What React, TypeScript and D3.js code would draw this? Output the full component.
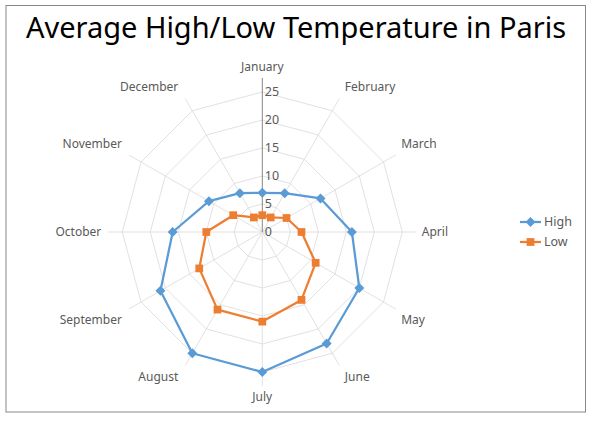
import React from "react";
import * as d3 from "d3";

const months = ["January","February","March","April","May","June","July","August","September","October","November","December"];
const highValues = [7, 8, 12, 16, 20, 23, 25, 25, 21, 16, 11, 8];
const lowValues = [3, 3, 5, 7, 11, 14, 16, 16, 13, 10, 6, 3];
const tickValues = [0, 5, 10, 15, 20, 25];
const seriesNames = ["High", "Low"];
const seriesColors = ["#5B9BD5", "#ED7D31"];

const W = 594, H = 423;
const cx = 262.3, cy = 232;
const FONT = "'Noto Sans', 'Open Sans', sans-serif";

export default function App() {
  const r = d3.scaleLinear().domain([0, 25]).range([0, 140]);
  const angle = d3.scalePoint<string>().domain(months).range([0, 2 * Math.PI * (11 / 12)]);
  const pt = (m: string, v: number): [number, number] => {
    const a = angle(m)!;
    return [cx + r(v) * Math.sin(a), cy - r(v) * Math.cos(a)];
  };
  const radarLine = d3.lineRadial<number>()
    .angle((_, i) => angle(months[i])!)
    .radius((d) => r(d))
    .curve(d3.curveLinearClosed);
  const ringVals = tickValues.filter((t) => t > 0);
  const axisMax = 27.5;
  const series = [highValues, lowValues];
  const diamond = d3.symbol().type(d3.symbolSquare).size(50)()!;
  const square = d3.symbol().type(d3.symbolSquare).size(60)()!;
  const markers = [diamond, square];
  const rotations = [45, 0];

  return (
    <svg width={W} height={H} style={{ display: "block", position: "absolute", left: 0, top: 0 }}>
      <rect x={0} y={0} width={W} height={H} fill="#fff" />
      <rect x={6} y={5.5} width={579.5} height={406.5} fill="#fff" stroke="#888" strokeWidth={1} />
      <text x={296} y={38} textAnchor="middle" fontFamily={FONT} fontSize={29} fill="#000">
        Average High/Low Temperature in Paris
      </text>
      {/* rings */}
      {ringVals.map((v) => (
        <polygon key={v}
          points={months.map((m) => pt(m, v).join(",")).join(" ")}
          fill="none" stroke="#D9D9D9" strokeWidth={0.8} />
      ))}
      {/* spokes */}
      {months.map((m, i) => {
        const [x, y] = pt(m, axisMax);
        return i === 0 ? null : (
          <line key={m} x1={cx} y1={cy} x2={x} y2={y} stroke="#D9D9D9" strokeWidth={0.8} />
        );
      })}
      <line x1={cx} y1={cy} x2={pt(months[0], axisMax)[0]} y2={pt(months[0], axisMax)[1]} stroke="#868686" strokeWidth={1} />
      {/* tick labels */}
      {tickValues.map((t) => (
        <text key={t} x={cx + 2.5} y={cy - r(t)} dy="0.35em" fontFamily={FONT} fontSize={12.5} fill="#595959">{t}</text>
      ))}
      {/* category labels */}
      {months.map((m) => {
        const a = angle(m)!;
        const [x, y] = pt(m, axisMax);
        const s = Math.sin(a), c = Math.cos(a);
        const anchor = s > 0.01 ? "start" : s < -0.01 ? "end" : "middle";
        const dx = s > 0.01 ? 5.5 : s < -0.01 ? -7 : 0;
        const dyy = c > 0.01 ? -11.5 : c < -0.01 ? 11 : 0;
        return (
          <text key={m} x={x + dx} y={y + dyy} dy="0.35em" textAnchor={anchor}
            fontFamily={FONT} fontSize={12} fill="#595959">{m}</text>
        );
      })}
      {/* series */}
      {series.map((vals, si) => (
        <g key={si} transform={`translate(${cx},${cy})`}>
          <path d={radarLine(vals)!} fill="none" stroke={seriesColors[si]} strokeWidth={2.25} strokeLinejoin="round" />
          {vals.map((v, i) => {
            const a = angle(months[i])!;
            return (
              <path key={i} d={markers[si]}
                transform={`translate(${r(v) * Math.sin(a)},${-r(v) * Math.cos(a)}) rotate(${rotations[si]})`}
                fill={seriesColors[si]} />
            );
          })}
        </g>
      ))}
      {/* legend */}
      {seriesNames.map((n, i) => {
        const y = 222 + i * 20;
        return (
          <g key={n}>
            <line x1={520} x2={541} y1={y} y2={y} stroke={seriesColors[i]} strokeWidth={2.25} />
            <path d={markers[i]} transform={`translate(530.5,${y}) rotate(${rotations[i]})`} fill={seriesColors[i]} />
            <text x={544} y={y} dy="0.35em" fontFamily={FONT} fontSize={12.5} fill="#595959">{n}</text>
          </g>
        );
      })}
    </svg>
  );
}
